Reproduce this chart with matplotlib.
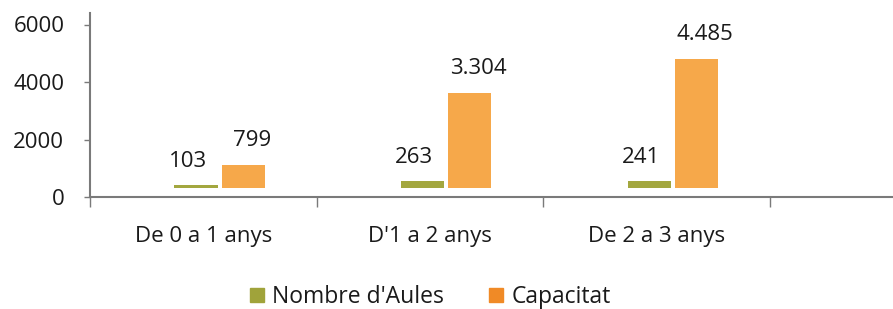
import matplotlib
matplotlib.use("Agg")
import matplotlib.pyplot as plt
from matplotlib.lines import Line2D
import numpy as np

categories = ["De 0 a 1 anys", "D'1 a 2 anys", "De 2 a 3 anys"]
aules = [103, 263, 241]
capacitat = [799, 3304, 4485]
aules_labels = ["103", "263", "241"]
capacitat_labels = ["799", "3.304", "4.485"]
series_names = ["Nombre d'Aules", "Capacitat"]
yticks = [0, 2000, 4000, 6000]

plt.rcParams['font.family'] = ['Open Sans', 'DejaVu Sans']
TXT = '#1a1a1a'
GREEN = '#A3A73F'
ORANGE = '#F6A84A'
AXC = '#7a7a7a'
FS = 16

fig = plt.figure(figsize=(8.93, 3.09), dpi=100)
ax = fig.add_axes([90/893, 1-197/309, 1-90/893, (197-13)/309])

x = np.arange(len(categories))
w = 0.19
base = 300
b1 = ax.bar(x - 0.032, aules, w, bottom=base, color=GREEN)
b2 = ax.bar(x + 0.177, capacitat, w, bottom=base, color=ORANGE)

for rect, lab in zip(b1, aules_labels):
    ax.annotate(lab, (rect.get_x() + rect.get_width()/2, rect.get_y() + rect.get_height()),
                xytext=(-6, 13), textcoords='offset points', ha='center', va='baseline',
                fontsize=FS, color=TXT)
for rect, lab in zip(b2, capacitat_labels):
    ax.annotate(lab, (rect.get_x() + rect.get_width()/2, rect.get_y() + rect.get_height()),
                xytext=(6, 14), textcoords='offset points', ha='center', va='baseline',
                fontsize=FS, color=TXT)

ax.set_xlim(-0.5, 3.045)
ax.set_ylim(0, 6400)
ax.set_yticks(yticks)
ax.set_yticklabels([str(v) for v in yticks])
ax.tick_params(axis='y', length=4.5, width=1, color=AXC, pad=14, labelsize=FS, labelcolor=TXT)

ax.set_xticks([-0.5, 0.5, 1.5, 2.5])
ax.set_xticklabels([])
ax.tick_params(axis='x', which='major', length=7, width=1, color=AXC)
ax.set_xticks(x, minor=True)
ax.set_xticklabels(categories, minor=True)
ax.tick_params(axis='x', which='minor', length=0, pad=21, labelsize=FS, labelcolor=TXT)

for s in ['top', 'right']:
    ax.spines[s].set_visible(False)
for s in ['left', 'bottom']:
    ax.spines[s].set_color(AXC)
    ax.spines[s].set_linewidth(1.5)

handles = [Line2D([], [], marker='s', linestyle='none', markersize=10, color='#A0A33A'),
           Line2D([], [], marker='s', linestyle='none', markersize=10, color='#F08A26')]
fig.legend(handles, series_names, loc='center', bbox_to_anchor=(429/893, 1-297/309),
           ncol=2, frameon=False, fontsize=16.5, handletextpad=0.25, columnspacing=1.9,
           handlelength=0.8, labelcolor=TXT)

fig.savefig('out.png', dpi=100)
